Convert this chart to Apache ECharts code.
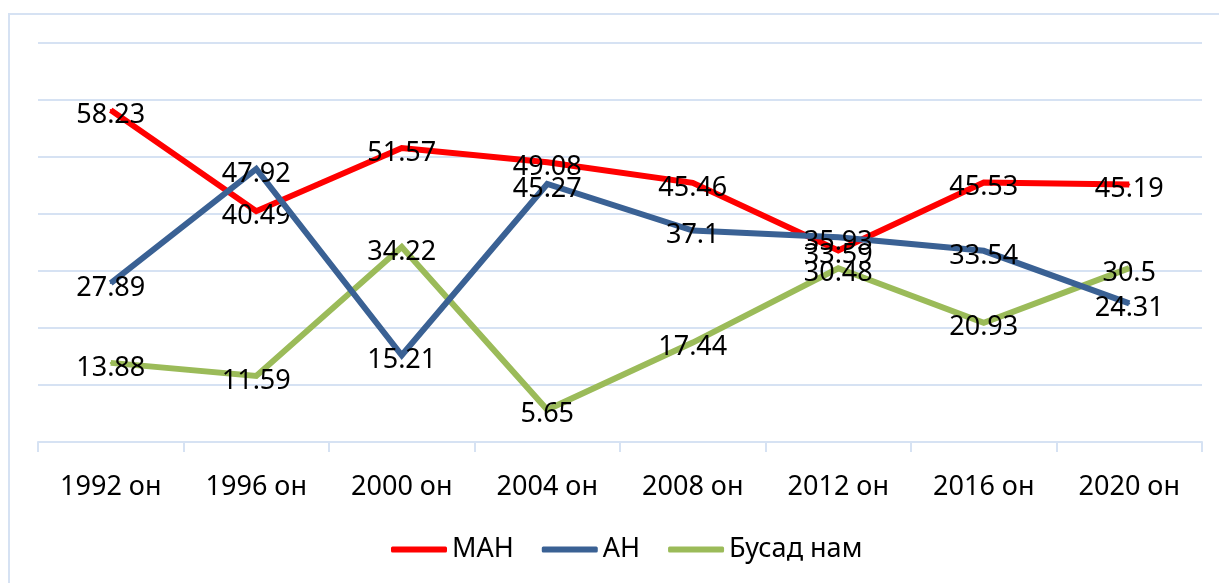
<!DOCTYPE html>
<html>
<head>
<meta charset="utf-8">
<script src="https://cdn.jsdelivr.net/npm/echarts@6/dist/echarts.min.js"></script>
<style>
html,body{margin:0;padding:0;background:#fff;}
#frame{position:absolute;left:8px;top:13px;width:1300px;height:700px;border-left:2px solid #D6E2F3;border-top:2px solid #D6E2F3;box-sizing:border-box;}
#chart{position:absolute;left:0;top:0;width:1219px;height:583px;}
</style>
</head>
<body>
<div id="frame"></div>
<div id="chart"></div>
<script>
const categories = ['1992 он','1996 он','2000 он','2004 он','2008 он','2012 он','2016 он','2020 он'];
const seriesNames = ['МАН','АН','Бусад нам'];
const manValues = [58.23, 40.49, 51.57, 49.08, 45.46, 33.59, 45.53, 45.19];
const anValues = [27.89, 47.92, 15.21, 45.27, 37.1, 35.93, 33.54, 24.31];
const otherValues = [13.88, 11.59, 34.22, 5.65, 17.44, 30.48, 20.93, 30.5];
const colors = ['#FF0000','#3A6194','#9BBB59'];

const chart = echarts.init(document.getElementById('chart'));
const FONT = '"Noto Sans", sans-serif';
function mk(name, data, color, z){
  return {
    name: name, type: 'line', data: data, symbol: 'circle', symbolSize: 2, showSymbol: true, z: z,
    lineStyle: {color: color, width: 6, join: 'miter'},
    itemStyle: {color: color},
    label: {show: true, position: 'bottom', distance: -11, lineHeight: 30, color: '#000', fontSize: 27, fontFamily: FONT},
    labelLayout: {hideOverlap: false},
    emphasis: {disabled: true}
  };
}
chart.setOption({
  animation: false,
  backgroundColor: 'transparent',
  grid: {left: 38, right: 17, top: 43, bottom: 141, containLabel: false},
  legend: {
    data: seriesNames, left: 386, top: 531, icon: 'roundRect', itemWidth: 56, itemHeight: 6,
    itemGap: 28, textStyle: {fontSize: 27, fontFamily: FONT, color: '#000'}
  },
  xAxis: {
    type: 'category', data: categories, boundaryGap: true,
    axisLine: {lineStyle: {color: '#D6E2F3', width: 2}},
    axisTick: {show: true, length: 10, lineStyle: {color: '#D6E2F3', width: 2}},
    axisLabel: {fontSize: 27, fontFamily: FONT, color: '#000', margin: 32}
  },
  yAxis: {
    type: 'value', min: 0, max: 70, interval: 10,
    axisLine: {show: false}, axisTick: {show: false}, axisLabel: {show: false},
    splitLine: {lineStyle: {color: '#D6E2F3', width: 2}}
  },
  series: [
    mk(seriesNames[0], manValues, colors[0], 3),
    mk(seriesNames[1], anValues, colors[1], 4),
    mk(seriesNames[2], otherValues, colors[2], 2)
  ]
});
</script>
</body>
</html>
